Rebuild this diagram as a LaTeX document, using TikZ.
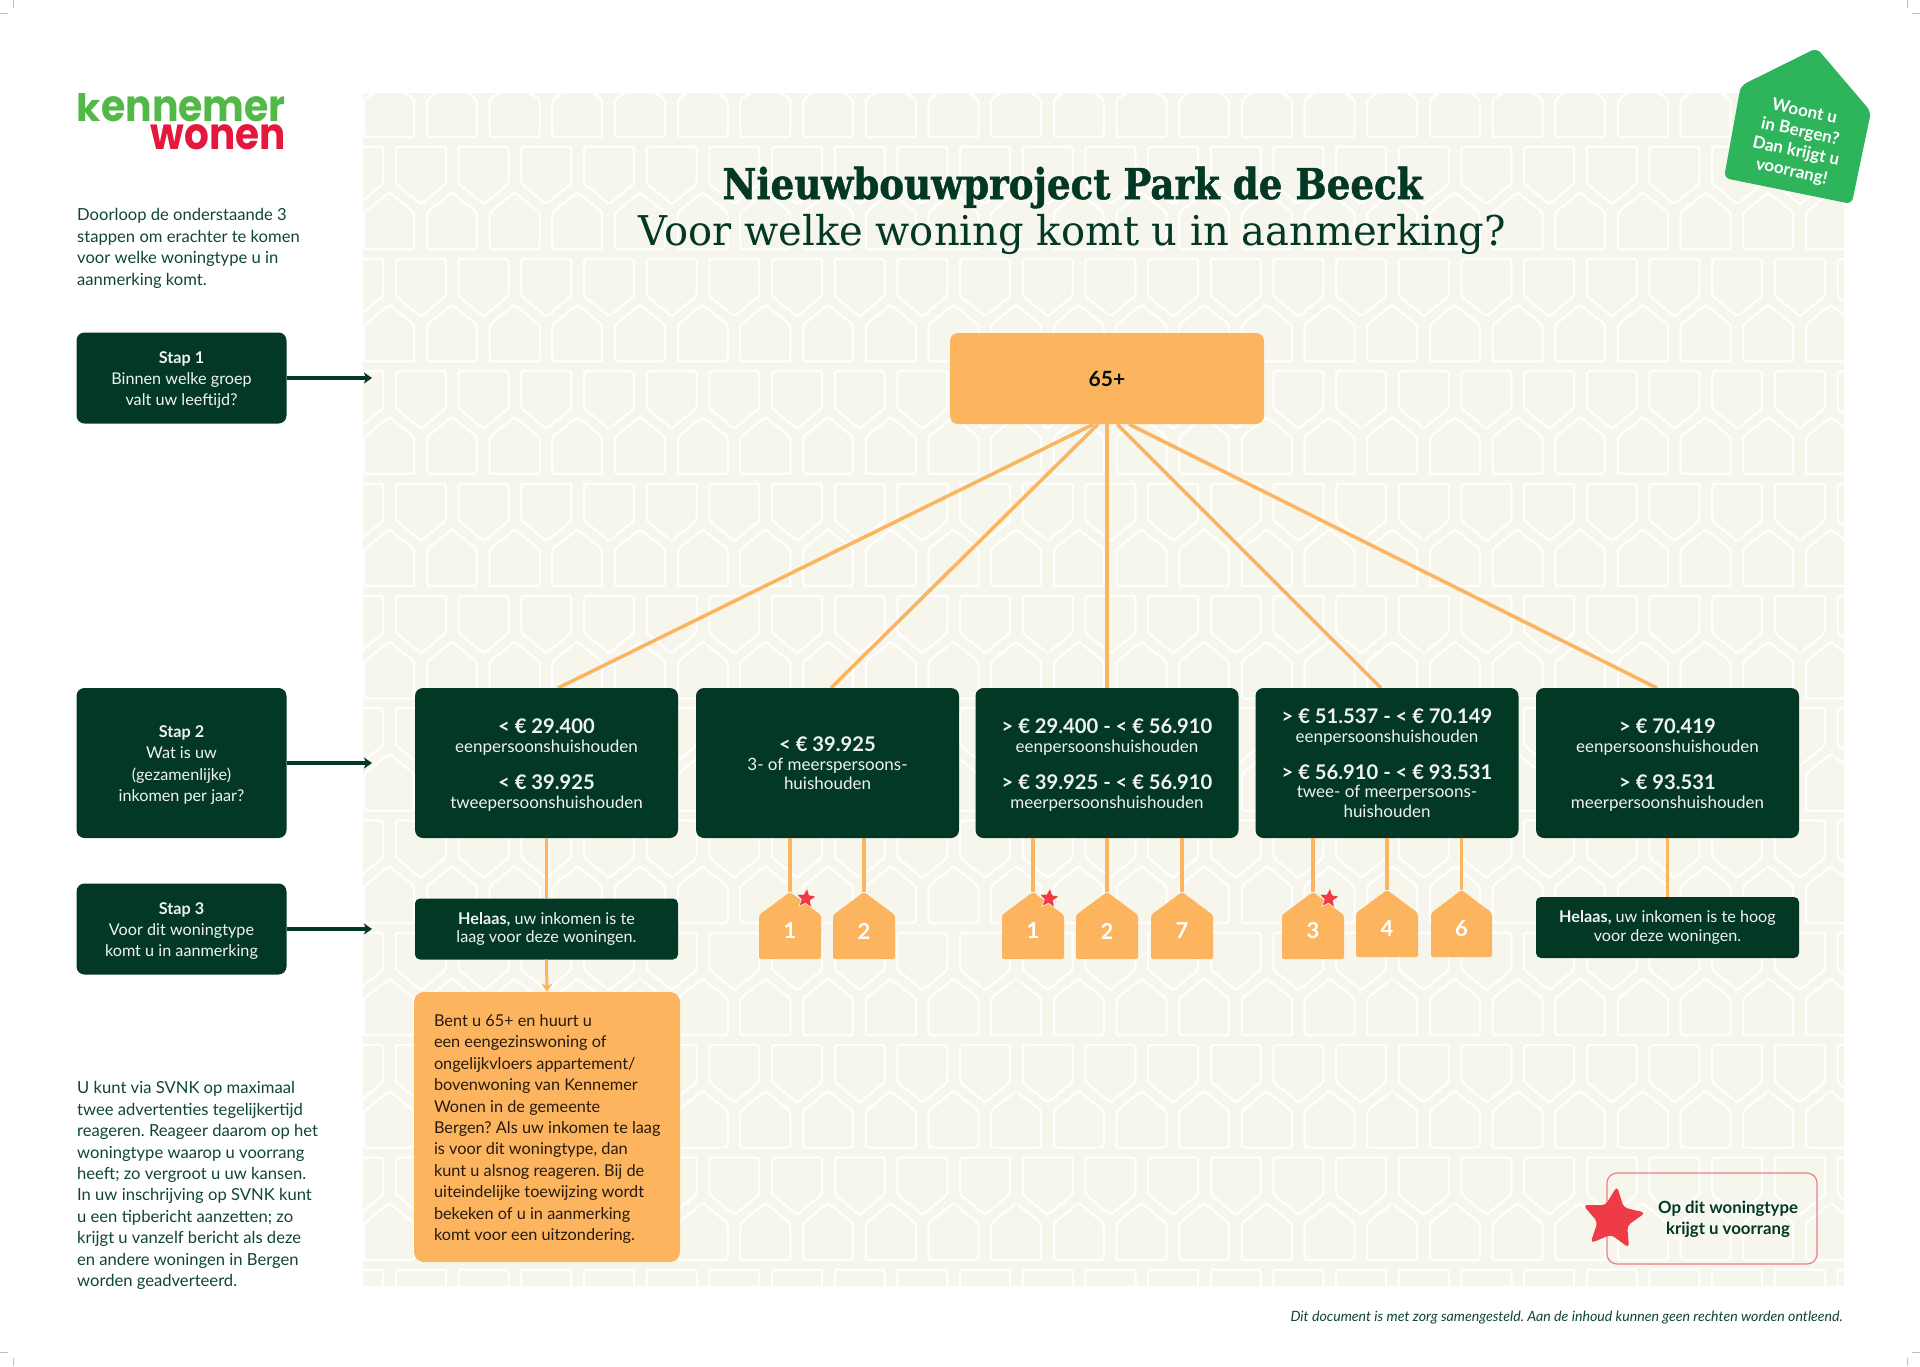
\documentclass[tikz,border=0pt]{standalone}
\usepackage{fontspec}
\usepackage{graphicx}
\setmainfont{Lato}
\newfontfamily\slabfont[BoldFeatures={FakeBold=1.2}]{DejaVu Serif}
\newfontfamily\logofont{Poppins}
\usetikzlibrary{arrows.meta,calc,shapes.geometric}
\definecolor{dk}{HTML}{033825}
\definecolor{txtg}{HTML}{0F4631}
\definecolor{ora}{HTML}{FDB45F}
\definecolor{panelc}{HTML}{F6F6ED}
\definecolor{grn}{HTML}{2EB45A}
\definecolor{starred}{HTML}{EF3B46}
\definecolor{logog}{HTML}{52B848}
\definecolor{logor}{HTML}{E5173D}
\definecolor{lgnd}{HTML}{EF7C82}
\definecolor{onDark}{HTML}{F0F3EF}
\newcommand{\fz}[2]{\fontsize{#1}{#2}\selectfont\frenchspacing}
\newcommand{\amt}[1]{{\fontsize{20.2}{21}\bfseries\selectfont #1}}
\newcommand{\tp}[1]{\rule{0pt}{#1}}
% name, left, right, apex y, shoulder y, bottom y, label
\newcommand{\hous}[7]{%
  \path[fill=ora,rounded corners=2pt] ({#2},{#6}) -- ({#2},{#5}) -- ({(#2+#3)/2},{#4}) -- ({#3},{#5}) -- ({#3},{#6}) -- cycle;
  \coordinate (#1-top) at ({(#2+#3)/2},{#4});
  \node[houselbl] (#1) at ({(#2+#3)/2},{#6-28}) {#7};
}
\tikzset{
  x=1pt,y=-1pt,
  darkbox/.style={fill=dk,text=onDark,rounded corners=8pt,align=center,inner sep=0pt,font=\fz{17}{18.8}},
  stepbox/.style={darkbox,minimum width=210pt,minimum height=91pt,font=\fz{16.2}{21.4}},
  incbox/.style={darkbox,minimum width=263pt,minimum height=150pt},
  sorrybox/.style={darkbox,rounded corners=5pt,minimum width=263pt,minimum height=61pt,font=\fz{16.2}{18.2}},
  link/.style={draw=ora,line width=3.5pt},
  steparrow/.style={draw=dk,line width=3.2pt,-{Stealth[length=8pt,width=11pt,inset=2pt]}},
  oraarrow/.style={draw=ora,line width=3pt,-{Stealth[length=8pt,width=11pt,inset=2pt]}},
  houselbl/.style={text=white,inner sep=0pt,font=\fz{22}{22}\bfseries},
  smallstar/.style={star,star points=5,star point ratio=2.2,minimum size=21pt,inner sep=0pt,fill=starred,draw=panelc,line width=0.6pt,rotate=-6},
  plain/.style={text=txtg,inner sep=0pt,align=left,font=\fz{16.6}{21.4}},
  crop/.style={draw=black!25,line width=1pt},
  pat/.style={draw=white,line width=2.2pt,rounded corners=2.5pt},
}
\begin{document}
\begin{tikzpicture}
\useasboundingbox (0,0) rectangle (1920,1366);
% panel with house pattern
\fill[panelc] (363,93) rectangle (1844,1286);
\begin{scope}
\clip (363,93) rectangle (1844,1286);
\foreach \k in {-1,...,10}{
  \pgfmathsetmacro{\ay}{192.4+112.3*\k}
  \pgfmathsetmacro{\ty}{146.7+112.3*\k}
  \foreach \i in {0,...,25}{
    \pgfmathsetmacro{\cu}{326.6+62.68*\i}
    \pgfmathsetmacro{\cd}{295.6+62.68*\i}
    \draw[pat] ({\cu-25},{\ay+20}) -- (\cu,\ay) -- ({\cu+25},{\ay+20}) -- ({\cu+25},{\ay+56.8}) -- ({\cu-25},{\ay+56.8}) -- cycle;
    \draw[pat] ({\cd-25},{\ty+37}) -- (\cd,{\ty+57.5}) -- ({\cd+25},{\ty+37}) -- ({\cd+25},\ty) -- ({\cd-25},\ty) -- cycle;
  }
}
\end{scope}
% crop marks
\draw[crop] (0,13) -- (8,13); \draw[crop] (13,0) -- (13,8);
\draw[crop] (1912,13) -- (1920,13); \draw[crop] (1907,0) -- (1907,8);
\draw[crop] (0,1352) -- (8,1352); \draw[crop] (13,1358) -- (13,1366);
\draw[crop] (1912,1352) -- (1920,1352); \draw[crop] (1907,1358) -- (1907,1366);
% logo
\node[anchor=base east,inner sep=0pt,text=logog,font=\logofont\fz{44}{44}\bfseries] (logoa) at (286,121) {\resizebox{209pt}{\height}{\scalebox{1}[0.86]{k}ennemer}};
\node[anchor=base east,inner sep=0pt,text=logor,font=\logofont\fz{44}{44}\bfseries] (logob) at (286,149) {\resizebox{135pt}{\height}{wonen}};
% intro
\node[plain,anchor=north west] (intro) at (77,208.5) {Doorloop de onderstaande 3\\stappen om erachter te komen\\voor welke woningtype u in\\aanmerking komt.};
% title
\node[inner sep=0pt,anchor=base,text=dk,font=\slabfont\fz{42.5}{44}\bfseries] (titlea) at (1072.5,199) {\resizebox{700pt}{\height}{Nieuwbouwproject Park de Beeck}};
\node[inner sep=0pt,anchor=base,text=dk,font=\slabfont\fz{41}{44}] (titleb) at (1072.5,245) {\resizebox{867pt}{\height}{Voor welke woning komt u in aanmerking?}};
% green house
\path[fill=grn,rounded corners=6pt] (1816.7,48) -- (1871,111.7) -- (1851.7,204) -- (1724,178) -- (1740.7,85.7) -- cycle;
\node[text=white,rotate=-12,align=center,inner sep=0pt,font=\fz{17}{20.5}\bfseries] (bergen) at (1798,142) {Woont u\\in Bergen?\\Dan krijgt u\\voorrang!};
% step boxes
\node[stepbox] (s1) at (181.5,378) {\tp{16pt}\textbf{Stap 1}\\Binnen welke groep\\valt uw leeftijd?};
\node[stepbox,minimum height=150pt] (s2) at (181.5,763) {\tp{16pt}\textbf{Stap 2}\\Wat is uw\\(gezamenlijke)\\inkomen per jaar?};
\node[stepbox] (s3) at (181.5,929) {\tp{16pt}\textbf{Stap 3}\\Voor dit woningtype\\komt u in aanmerking};
\coordinate (e1) at (372,378);
\coordinate (e2) at (372,763);
\coordinate (e3) at (372,929);
\draw[steparrow] (s1.east) -- (e1);
\draw[steparrow] (s2.east) -- (e2);
\draw[steparrow] (s3.east) -- (e3);
% top node
\node[fill=ora,rounded corners=8pt,minimum width=314pt,minimum height=91pt,inner sep=0pt,text=black!70!dk,font=\fz{21}{21}\bfseries] (top) at (1107,378.5) {65+};
% income boxes positions
\coordinate (c1) at (546.5,763);
\coordinate (c2) at (827.5,763);
\coordinate (c3) at (1107,763);
\coordinate (c4) at (1387,763);
\coordinate (c5) at (1667.5,763);
% connectors behind boxes
\draw[link] ($(top.south)+(-13.5,0)$) -- ($(c1)+(11.5,-75)$);
\draw[link] ($(top.south)+(-9,0)$) -- ($(c2)+(3.5,-75)$);
\draw[link] (top.south) -- ($(c3)+(0,-75)$);
\draw[link] ($(top.south)+(10,0)$) -- ($(c4)+(-6,-75)$);
\draw[link] ($(top.south)+(22,0)$) -- ($(c5)+(-10.5,-75)$);
% income boxes
\node[incbox] (b1) at (c1) {\tp{19pt}\amt{< € 29.400}\\eenpersoonshuishouden\\[18.2pt]\amt{< € 39.925}\\tweepersoonshuishouden};
\node[incbox] (b2) at (c2) {\amt{< € 39.925}\\3- of meerspersoons-\\[0.6pt]huishouden};
\node[incbox] (b3) at (c3) {\tp{19pt}\amt{> € 29.400 - < € 56.910}\\eenpersoonshuishouden\\[18.2pt]\amt{> € 39.925 - < € 56.910}\\meerpersoonshuishouden};
\node[incbox] (b4) at (c4) {\amt{> € 51.537 - < € 70.149}\\eenpersoonshuishouden\\[18.2pt]\amt{> € 56.910 - < € 93.531}\\twee- of meerpersoons-\\[0.6pt]huishouden};
\node[incbox] (b5) at (c5) {\tp{19pt}\amt{> € 70.419}\\eenpersoonshuishouden\\[18.2pt]\amt{> € 93.531}\\meerpersoonshuishouden};
% sorry boxes
\node[sorrybox] (h1) at (546.5,929) {\textbf{Helaas,} uw inkomen is te\\laag voor deze woningen.};
\node[sorrybox] (h2) at (1667.5,927.5) {\textbf{Helaas,} uw inkomen is te hoog\\voor deze woningen.};
% orange note
\node[fill=ora,rounded corners=10pt,text=black!85!ora,inner xsep=20pt,inner ysep=0pt,minimum width=266pt,minimum height=270pt,font=\fz{16.3}{21.4}] (note) at (547,1127) {\makebox[226pt][l]{\parbox{250pt}{\raggedright \tp{16pt}Bent u 65+ en huurt u\\een eengezinswoning of\\ongelijkvloers appartement/\\bovenwoning van Kennemer\\Wonen in de gemeente\\Bergen? Als uw inkomen te laag\\is voor dit woningtype, dan\\kunt u alsnog reageren. Bij de\\uiteindelijke toewijzing wordt\\bekeken of u in aanmerking\\komt voor een uitzondering.}}};
\draw[link] (b1.south) -- (h1.north);
\draw[oraarrow] (h1.south) -- (note.north);
\draw[link] (b5.south) -- (h2.north);
% houses
\hous{p1}{759}{821}{892}{915}{959}{1}
\hous{p2}{833}{895}{892}{915}{959}{2}
\hous{q1}{1002}{1064}{892}{915}{959}{1}
\hous{q2}{1076}{1138}{892}{915}{959}{2}
\hous{q7}{1151}{1213}{892}{915}{959}{7}
\hous{r3}{1282}{1344}{892}{915}{959}{3}
\hous{r4}{1356}{1418}{890}{913}{957}{4}
\hous{r6}{1431}{1492}{890}{913}{957}{6}
\draw[link] (b2.south -| p1-top) -- (p1-top);
\draw[link] (b2.south -| p2-top) -- (p2-top);
\draw[link] (b3.south -| q1-top) -- (q1-top);
\draw[link] (b3.south -| q2-top) -- (q2-top);
\draw[link] (b3.south -| q7-top) -- (q7-top);
\draw[link] (b4.south -| r3-top) -- (r3-top);
\draw[link] (b4.south -| r4-top) -- (r4-top);
\draw[link] (b4.south -| r6-top) -- (r6-top);
% stars
\node[smallstar] (st1) at (806,898.5) {};
\node[smallstar] (st2) at (1049,898.5) {};
\node[smallstar] (st3) at (1329,898.5) {};
% side text
\node[plain,anchor=north west] (side) at (77,1081.5) {U kunt via SVNK op maximaal\\twee advertenties tegelijkertijd\\reageren. Reageer daarom op het\\woningtype waarop u voorrang\\heeft; zo vergroot u uw kansen.\\In uw inschrijving op SVNK kunt\\u een tipbericht aanzetten; zo\\krijgt u vanzelf bericht als deze\\en andere woningen in Bergen\\worden geadverteerd.};
% legend
\node[draw=lgnd,line width=1.2pt,rounded corners=10pt,minimum width=210pt,minimum height=91pt,inner sep=0pt] (leg) at (1712,1218.5) {};
\node[star,star points=5,star point ratio=2.1,minimum size=66pt,inner sep=0pt,fill=starred,rotate=-7,rounded corners=4pt] (legstar) at (1613,1219) {};
\node[text=dk,align=center,inner sep=0pt,font=\fz{16.8}{21}\bfseries] (legt) at (1728,1219) {Op dit woningtype\\krijgt u voorrang};
% footer
\node[anchor=base east,inner sep=0pt,text=txtg,font=\fz{14.15}{16}\itshape] (foot) at (1843,1321.5) {Dit document is met zorg samengesteld. Aan de inhoud kunnen geen rechten worden ontleend.};
\end{tikzpicture}
\end{document}
